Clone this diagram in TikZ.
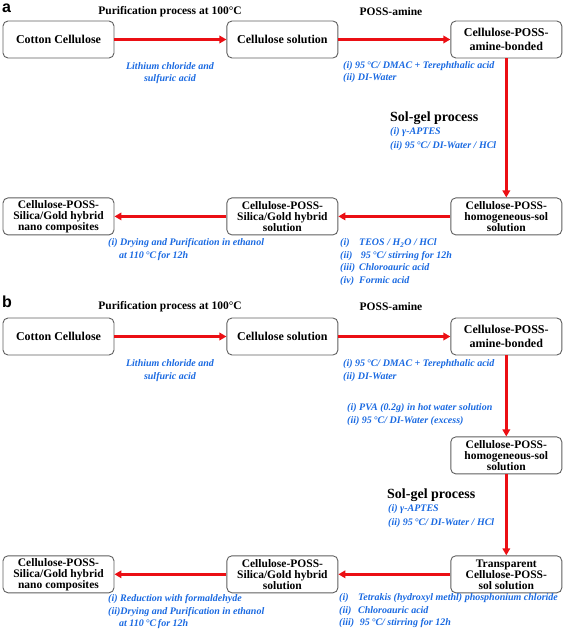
\documentclass[tikz,border=0pt]{standalone}
\usepackage{fontspec}
\setmainfont{Liberation Serif}
\newfontfamily\panelfont{Liberation Sans}
\usetikzlibrary{positioning,arrows.meta}

\definecolor{stepblue}{RGB}{25,105,225}
\definecolor{boxgray}{RGB}{95,95,95}
\definecolor{flowred}{RGB}{235,15,20}

\newcommand{\stepno}[1]{\makebox[19pt][l]{#1}}

\tikzset{
  stage/.style={draw=boxgray, line width=0.9pt, rounded corners=5pt, fill=white,
    minimum width=111pt, minimum height=37pt, inner sep=1pt, align=center,
    font=\bfseries\fontsize{12}{14.5}\selectfont},
  stage3/.style={stage, font=\bfseries\fontsize{11.5}{11}\selectfont},
  flow/.style={draw=flowred, line width=2.4pt, -{Triangle[length=7pt,width=7.5pt]}},
  cond/.style={text=stepblue, font=\bfseries\itshape\fontsize{10}{12.5}\selectfont,
    align=left, inner sep=0pt, anchor=north west},
  head/.style={font=\bfseries\fontsize{11.5}{13}\selectfont, inner sep=0pt},
  solgel/.style={font=\bfseries\fontsize{14}{16}\selectfont, inner sep=0pt, anchor=west},
  panel/.style={font=\panelfont\bfseries\fontsize{16}{16}\selectfont, inner sep=0pt, anchor=base west},
}

\begin{document}
\begin{tikzpicture}[x=1pt, y=-1pt, node distance=112pt]
\useasboundingbox (0,0) rectangle (567,630);

% (a)
\node[panel] (pa) at (2,12) {a};
\node[head] (a-h1) at (170,11.5) {Purification process at 100°C};
\node[head] (a-h2) at (391,12) {POSS-amine};

\node[stage] (a1) at (58.5,39.5) {Cotton Cellulose};
\node[stage, right=of a1] (a2) {Cellulose solution};
\node[stage, right=of a2] (a3) {Cellulose-POSS-\\amine-bonded};
\node[stage3, below=139pt of a3] (a4) {Cellulose-POSS-\\homogeneous-sol\\solution};
\node[stage3, left=of a4] (a5) {Cellulose-POSS-\\Silica/Gold hybrid\\solution};
\node[stage3, left=of a5] (a6) {Cellulose-POSS-\\Silica/Gold hybrid\\nano composites};

\draw[flow] (a1) -- (a2);
\draw[flow] (a2) -- (a3);
\draw[flow] (a3) -- (a4);
\draw[flow] (a4) -- (a5);
\draw[flow] (a5) -- (a6);

\node[cond, align=center, anchor=north] (a-c1) at (170,62) {Lithium chloride and\\sulfuric acid};
\node[cond] (a-c2) at (343,61) {(i) 95\,°C/ DMAC + Terephthalic acid\\(ii) DI-Water};
\node[solgel] (a-sg) at (390,118) {Sol-gel process};
\node[cond] (a-c3) at (390,127.5) {(i) γ-APTES\\[1pt](ii) 95\,°C/ DI-Water / HCl};
\node[cond] (a-c4) at (340,238.5) {\stepno{(i)}TEOS / H\textsubscript{2}O / HCl\\\stepno{(ii)}\,95\,°C/ stirring for 12h\\\stepno{(iii)}Chloroauric acid\\\stepno{(iv)}Formic acid};
\node[cond] (a-c5) at (108,238.5) {(i) Drying and Purification in ethanol\\\hspace*{11pt}at 110\,°C\,for 12h};

% (b)
\node[panel] (pb) at (2,307) {b};
\node[head] (b-h1) at (170,307) {Purification process at 100°C};
\node[head] (b-h2) at (391,307) {POSS-amine};

\node[stage] (b1) at (58.5,336.5) {Cotton Cellulose};
\node[stage, right=of b1] (b2) {Cellulose solution};
\node[stage, right=of b2] (b3) {Cellulose-POSS-\\amine-bonded};
\node[stage3, below=81pt of b3] (b4) {Cellulose-POSS-\\homogeneous-sol\\solution};
\node[stage3, below=81pt of b4] (b5) {Transparent\\Cellulose-POSS-\\sol solution};
\node[stage3, left=of b5] (b6) {Cellulose-POSS-\\Silica/Gold hybrid\\solution};
\node[stage3, left=of b6] (b7) {Cellulose-POSS-\\Silica/Gold hybrid\\nano composites};

\draw[flow] (b1) -- (b2);
\draw[flow] (b2) -- (b3);
\draw[flow] (b3) -- (b4);
\draw[flow] (b4) -- (b5);
\draw[flow] (b5) -- (b6);
\draw[flow] (b6) -- (b7);

\node[cond, align=center, anchor=north] (b-c1) at (170,359.5) {Lithium chloride and\\sulfuric acid};
\node[cond] (b-c2) at (343,359.5) {(i) 95\,°C/ DMAC + Terephthalic acid\\(ii) DI-Water};
\node[cond] (b-c3) at (347,403.5) {(i) PVA (0.2g) in hot water solution\\(ii) 95\,°C/ DI-Water (excess)};
\node[solgel] (b-sg) at (387,495) {Sol-gel process};
\node[cond] (b-c4) at (388,504.5) {(i) γ-APTES\\[1pt](ii) 95\,°C/ DI-Water / HCl};
\node[cond] (b-c5) at (339,593.5) {\stepno{(i)}Tetrakis (hydroxyl methl) phosphonium chloride\\\stepno{(ii)}Chloroauric acid\\\stepno{(iii)}\,95\,°C/ stirring for 12h};
\node[cond] (b-c6) at (108,594.5) {(i) Reduction with formaldehyde\\(ii)Drying and Purification in ethanol\\\hspace*{11pt}at 110\,°C\,for 12h};

\end{tikzpicture}
\end{document}
